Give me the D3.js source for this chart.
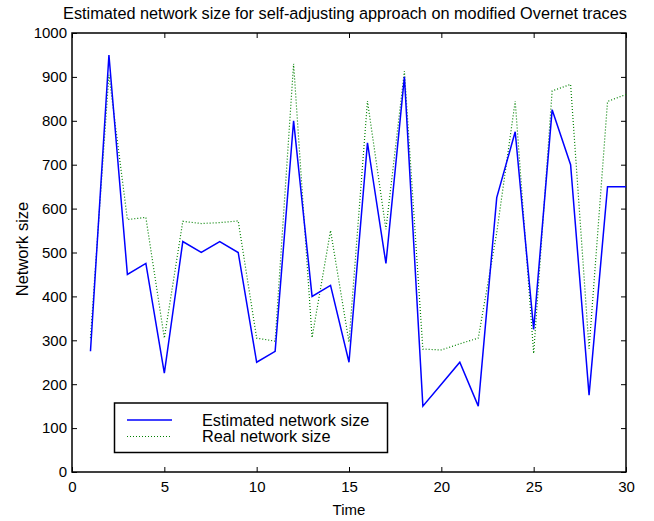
<!DOCTYPE html>
<html>
<head>
<meta charset="utf-8">
<script src="https://cdn.jsdelivr.net/npm/d3@7"></script>
<style>
  body { margin: 0; background: #fff; }
  svg { display: block; font-family: "Liberation Sans", Arial, Helvetica, sans-serif; }
</style>
</head>
<body>
<svg id="chart" width="654" height="521"></svg>
<script>
// Time steps and the two network-size series
const times = d3.range(1, 31);
const estimated = [275, 950, 450, 475, 225, 525, 500, 525, 500, 250,
                   275, 800, 400, 425, 250, 750, 475, 900, 150, 200,
                   250, 150, 625, 775, 325, 825, 700, 175, 650, 650];
const real = [305, 905, 575, 580, 305, 571, 566, 568, 572, 305,
              298, 930, 306, 550, 296, 845, 553, 913, 280, 278,
              292, 305, 545, 845, 270, 868, 883, 281, 844, 860];
const xTicks = [0, 5, 10, 15, 20, 25, 30];
const yTicks = [0, 100, 200, 300, 400, 500, 600, 700, 800, 900, 1000];
const seriesNames = ["Estimated network size", "Real network size"];

const margin = { left: 72, top: 33, right: 28, bottom: 49 };
const W = 654, H = 521;
const svg = d3.select("#chart");

const x = d3.scaleLinear().domain([0, 30]).range([margin.left, W - margin.right]);
const y = d3.scaleLinear().domain([0, 1000]).range([H - margin.bottom, margin.top]);

// Title
svg.append("text")
  .attr("x", 345).attr("y", 19)
  .attr("text-anchor", "middle")
  .attr("font-size", 16.3)
  .text("Estimated network size for self-adjusting approach on modified Overnet traces");

// Axes: outward labels on bottom/left, inward ticks on all four sides
const tickLen = 5;
const axisBottom = d3.axisBottom(x).tickValues(xTicks).tickSize(-tickLen).tickPadding(9).tickFormat(d3.format("d"));
const axisTop = d3.axisTop(x).tickValues(xTicks).tickSize(-tickLen).tickFormat("");
const axisLeft = d3.axisLeft(y).tickValues(yTicks).tickSize(-tickLen).tickPadding(5).tickFormat(d3.format("d"));
const axisRight = d3.axisRight(y).tickValues(yTicks).tickSize(-tickLen).tickFormat("");

function styleAxis(g) {
  g.select(".domain").remove();
  g.selectAll(".tick line").attr("stroke", "#000").attr("stroke-width", 1);
  g.selectAll(".tick text").attr("font-size", 15).attr("fill", "#000")
    .attr("font-family", "'Liberation Sans', Arial, sans-serif");
}

svg.append("g").attr("transform", `translate(0,${y(0)})`).call(axisBottom).call(styleAxis);
svg.append("g").attr("transform", `translate(0,${y(1000)})`).call(axisTop).call(styleAxis);
svg.append("g").attr("transform", `translate(${x(0)},0)`).call(axisLeft).call(styleAxis);
svg.append("g").attr("transform", `translate(${x(30)},0)`).call(axisRight).call(styleAxis);

// Plot frame
svg.append("rect")
  .attr("x", x(0)).attr("y", y(1000))
  .attr("width", x(30) - x(0)).attr("height", y(0) - y(1000))
  .attr("fill", "none").attr("stroke", "#000").attr("stroke-width", 1.5);

// Axis titles
svg.append("text")
  .attr("x", (x(0) + x(30)) / 2).attr("y", 515)
  .attr("text-anchor", "middle").attr("font-size", 15)
  .text("Time");
svg.append("text")
  .attr("transform", `translate(28,249) rotate(-90)`)
  .attr("text-anchor", "middle").attr("font-size", 16.5)
  .text("Network size");

// Series lines
const line = d3.line().x((d, i) => x(times[i])).y(d => y(d));

svg.append("path")
  .datum(real)
  .attr("d", line)
  .attr("fill", "none")
  .attr("stroke", "#008000")
  .attr("stroke-width", 1.2)
  .attr("stroke-dasharray", "1,2");

svg.append("path")
  .datum(estimated)
  .attr("d", line)
  .attr("fill", "none")
  .attr("stroke", "#0000ff")
  .attr("stroke-width", 1.5)
  .attr("stroke-linejoin", "miter");

// Legend
const lg = svg.append("g");
lg.append("rect")
  .attr("x", 114.5).attr("y", 403)
  .attr("width", 273).attr("height", 49.5)
  .attr("fill", "#fff").attr("stroke", "#000").attr("stroke-width", 1.5);
const legendItems = [
  { name: seriesNames[0], color: "#0000ff", dash: null, width: 1.5, yy: 420 },
  { name: seriesNames[1], color: "#008000", dash: "1,2", width: 1.2, yy: 436.5 }
];
legendItems.forEach(it => {
  lg.append("line")
    .attr("x1", 127).attr("x2", 172)
    .attr("y1", it.yy).attr("y2", it.yy)
    .attr("stroke", it.color).attr("stroke-width", it.width)
    .attr("stroke-dasharray", it.dash);
  lg.append("text")
    .attr("x", 202).attr("y", it.yy + 5.5)
    .attr("font-size", 16.3)
    .text(it.name);
});
</script>
</body>
</html>
